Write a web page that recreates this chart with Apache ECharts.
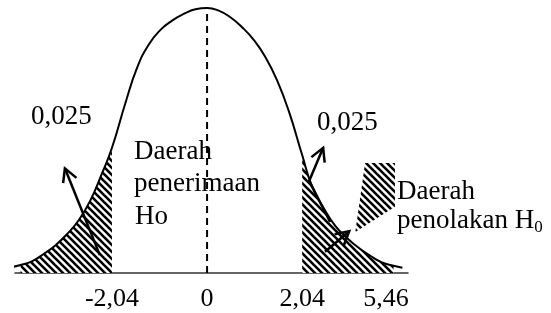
<!DOCTYPE html>
<html>
<head>
<meta charset="utf-8">
<script src="https://cdn.jsdelivr.net/npm/echarts@6/dist/echarts.min.js"></script>
<style>
  html, body { margin: 0; padding: 0; background: #fff; }
  #chart { width: 551px; height: 313px; }
</style>
</head>
<body>
<div id="chart"></div>
<script>
// curve (z, density)
const curveX = [-4.19, -4.0, -3.75, -3.5, -3.25, -3.0, -2.75, -2.5, -2.25, -2.04, -1.75, -1.5, -1.25, -1.0, -0.75, -0.5, -0.25, 0,
  0.25, 0.5, 0.75, 1.0, 1.25, 1.5, 1.75, 2.04, 2.25, 2.5, 2.75, 3.0, 3.25, 3.5, 3.75, 4.0, 4.19]
const curveY = [0.009, 0.012, 0.018, 0.029, 0.042, 0.059, 0.080, 0.110, 0.151, 0.189, 0.257, 0.310, 0.345, 0.367, 0.381, 0.391, 0.398, 0.400,
  0.396, 0.386, 0.371, 0.352, 0.326, 0.291, 0.245, 0.178, 0.131, 0.098, 0.071, 0.053, 0.038, 0.026, 0.016, 0.011, 0.008]

const leftTail = [-4.0, -2.04]
const rightTail = [2.04, 4.0]

const tickValues = [-2.04, 0, 2.04, 3.84]
const tickLabels = ['-2,04', '0', '2,04', '5,46']

const centerLine = [[0, 0], [0, 0.4]]

// annotation shapes, in data units
const leftArrow = [[-2.30, 0.027], [-3.05, 0.158]]
const rightArrow1 = [[2.64, 0.077], [2.19, 0.139], [2.49, 0.189]]
const rightArrow2 = [[2.53, 0.032], [3.05, 0.063]]
const callout = [[3.39, 0.166], [4.03, 0.166], [4.03, 0.100], [3.18, 0.062]]

const FONT = '"Liberation Serif", "Times New Roman", serif'

const hatch = (() => {
	const s = 7
	const c = document.createElement('canvas')
	c.width = s
	c.height = s
	const g = c.getContext('2d')
	g.fillStyle = '#fff'
	g.fillRect(0, 0, s, s)
	g.strokeStyle = '#000'
	g.lineWidth = 2.6
	for (let k = -1; k <= 1; k++) {
		g.beginPath()
		g.moveTo(-1, k * s - 1)
		g.lineTo(s + 1, s + k * s + 1)
		g.stroke()
	}
	return { image: c, repeat: 'repeat' }
})()

const points = curveX.map((x, i) => [x, curveY[i]])
const tailData = t => points.filter(p => p[0] >= t[0] && p[0] <= t[1])

const chart = echarts.init(document.getElementById('chart'))
chart.setOption({
	animation: false,
	grid: { left: 15, right: 143, top: 8, bottom: 40 },
	xAxis: {
		type: 'value',
		min: -4.12,
		max: 4.31,
		axisLine: { show: true, onZero: false, lineStyle: { color: '#333', width: 1.5 } },
		axisTick: { show: false },
		splitLine: { show: false },
		axisLabel: {
			customValues: tickValues,
			formatter: v => {
				const i = tickValues.findIndex(t => Math.abs(t - v) < 1e-6)
				return i >= 0 ? tickLabels[i] : ''
			},
			fontFamily: FONT,
			fontSize: 26,
			color: '#000',
			margin: 13,
		},
	},
	yAxis: { type: 'value', min: 0, max: 0.4, show: false },
	series: [
		{
			type: 'line',
			data: tailData(leftTail),
			smooth: 0.5,
			symbol: 'none',
			lineStyle: { width: 0 },
			areaStyle: { color: hatch, opacity: 1 },
			z: 1,
		},
		{
			type: 'line',
			data: tailData(rightTail),
			smooth: 0.5,
			symbol: 'none',
			lineStyle: { width: 0 },
			areaStyle: { color: hatch, opacity: 1 },
			z: 1,
		},
		{
			type: 'line',
			data: centerLine,
			symbol: 'none',
			lineStyle: { color: '#000', width: 2, type: [7, 5] },
			z: 2,
		},
		{
			type: 'line',
			data: points,
			smooth: 0.5,
			symbol: 'none',
			clip: false,
			lineStyle: { color: '#000', width: 2 },
			z: 3,
		},
	],
})

const px = p => chart.convertToPixel({ xAxisIndex: 0, yAxisIndex: 0 }, p)

const arrow = pts => {
	const pp = pts.map(px)
	const a = pp[pp.length - 2]
	const b = pp[pp.length - 1]
	const ang = Math.atan2(a[1] - b[1], a[0] - b[0])
	const len = 15
	const spread = 0.5
	const l1 = [b[0] + len * Math.cos(ang + spread), b[1] + len * Math.sin(ang + spread)]
	const l2 = [b[0] + len * Math.cos(ang - spread), b[1] + len * Math.sin(ang - spread)]
	const st = { stroke: '#000', lineWidth: 2.5, fill: null }
	return [
		{ type: 'polyline', shape: { points: pp }, style: st, z: 10 },
		{ type: 'polyline', shape: { points: [l1, b, l2] }, style: st, z: 10 },
	]
}

const txt = (text, x, y, extra) => ({
	type: 'text',
	x,
	y,
	z: 20,
	style: Object.assign({
		text,
		font: '27px ' + FONT,
		fill: '#000',
		align: 'left',
		verticalAlign: 'middle',
	}, extra || {}),
})

chart.setOption({
	graphic: [
		{ type: 'polygon', shape: { points: callout.map(px) }, style: { fill: hatch }, z: 5 },
		...arrow(leftArrow),
		...arrow(rightArrow1),
		...arrow(rightArrow2),
		txt('0,025', 31, 117),
		txt('Daerah', 134, 152),
		txt('penerimaan', 134, 184),
		txt('Ho', 135, 217),
		txt('0,025', 317, 123),
		txt('Daerah', 397, 192),
		txt('{n|penolakan H}{s|0}', 397, 221, {
			rich: {
				n: { font: '27px ' + FONT, fill: '#000' },
				s: { font: '17px ' + FONT, fill: '#000', padding: [14, 0, 0, 0] },
			},
		}),
	],
})
</script>
</body>
</html>
